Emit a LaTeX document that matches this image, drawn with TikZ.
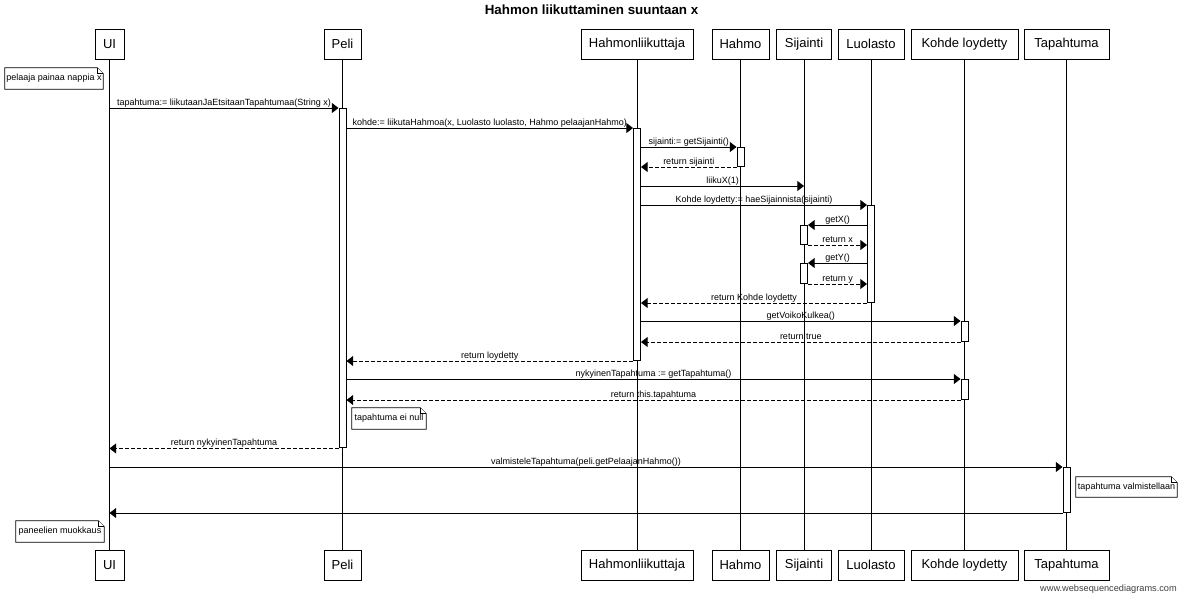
\documentclass[tikz,border=0pt]{standalone}
\usepackage{fontspec}
\setmainfont{Liberation Sans}
\usetikzlibrary{arrows.meta,calc}
\newcommand{\foldnote}[1]{%
  \draw[notel] (#1.north west) -- ([xshift=-4.5pt]#1.north east) -- ([yshift=-4.5pt]#1.north east) -- (#1.south east) -- (#1.south west) -- cycle;
  \draw[notel] ([xshift=-4.5pt]#1.north east) |- ([yshift=-4.5pt]#1.north east);}
\begin{document}
\begin{tikzpicture}[x=0.75pt,y=-0.75pt,
  pbox/.style={draw=black, line width=0.75pt, fill=white, minimum height=22.5pt, inner sep=0pt,
    font=\fontsize{9.75pt}{11pt}\selectfont},
  life/.style={draw=black, line width=0.75pt},
  act/.style={draw=black, line width=0.75pt, fill=white, minimum width=5.25pt, inner sep=0pt, anchor=north},
  msg/.style={draw=black, line width=0.75pt, -{Triangle[length=5pt,width=7.5pt]}},
  ret/.style={msg, dash pattern=on 3pt off 1.5pt},
  lbl/.style={midway, anchor=base, yshift=1.9pt, inner sep=0pt, font=\fontsize{6.75pt}{8pt}\selectfont},
  notel/.style={draw=black, line width=0.6pt, fill=white},
  notebox/.style={inner sep=0pt, minimum height=15.75pt, font=\fontsize{6.75pt}{8pt}\selectfont}
]
\useasboundingbox (0,0) rectangle (1184,597);
\fill[white] (0,0) rectangle (1184,597);

\node[font=\bfseries\fontsize{10pt}{12pt}\selectfont] (title) at (591.5,10) {Hahmon liikuttaminen suuntaan x};

% participants top
\node[pbox, minimum width=21.75pt] (ui) at (109.5,44.3) {UI};
\node[pbox, minimum width=27.75pt] (peli) at (342.5,44.3) {Peli};
\node[pbox, minimum width=84pt] (hl) at (637,44.3) {Hahmonliikuttaja};
\node[pbox, minimum width=42.75pt] (hahmo) at (740.5,44.3) {Hahmo};
\node[pbox, minimum width=41.25pt] (sij) at (804,44.3) {Sijainti};
\node[pbox, minimum width=49.5pt] (luo) at (871,44.3) {Luolasto};
\node[pbox, minimum width=80.25pt] (kohde) at (964.5,44.3) {Kohde loydetty};
\node[pbox, minimum width=63.75pt] (tap) at (1066.5,44.3) {Tapahtuma};
% participants bottom
\node[pbox, minimum width=21.75pt] (uiB) at (109.5,565) {UI};
\node[pbox, minimum width=27.75pt] (peliB) at (342.5,565) {Peli};
\node[pbox, minimum width=84pt] (hlB) at (637,565) {Hahmonliikuttaja};
\node[pbox, minimum width=42.75pt] (hahmoB) at (740.5,565) {Hahmo};
\node[pbox, minimum width=41.25pt] (sijB) at (804,565) {Sijainti};
\node[pbox, minimum width=49.5pt] (luoB) at (871,565) {Luolasto};
\node[pbox, minimum width=80.25pt] (kohdeB) at (964.5,565) {Kohde loydetty};
\node[pbox, minimum width=63.75pt] (tapB) at (1066.5,565) {Tapahtuma};

% lifelines
\foreach \p in {ui,peli,hl,hahmo,sij,luo,kohde,tap}
  \draw[life] (\p.south) -- (\p B.north);

% activations
\node[act, minimum height=254.6pt] (aPeli) at (342.5,108) {};
\node[act, minimum height=174pt] (aHl) at (637,128) {};
\node[act, minimum height=14.25pt] (aHahmo) at (740.5,147) {};
\node[act, minimum height=72.75pt] (aLuo) at (871,205) {};
\node[act, minimum height=14.25pt] (aSijA) at (804,225) {};
\node[act, minimum height=15pt] (aSijB) at (804,263) {};
\node[act, minimum height=15pt] (aKA) at (964.5,321) {};
\node[act, minimum height=15pt] (aKB) at (964.5,379) {};
\node[act, minimum height=33.75pt] (aTap) at (1066.5,467) {};

% messages
\draw[msg] (ui |- aPeli.north) -- (aPeli.north west) node[lbl] {tapahtuma:= liikutaanJaEtsitaanTapahtumaa(String x)};
\draw[msg] (aPeli.east |- aHl.north) -- (aHl.north west) node[lbl] {kohde:= liikutaHahmoa(x, Luolasto luolasto, Hahmo pelaajanHahmo)};
\draw[msg] (aHl.east |- aHahmo.north) -- (aHahmo.north west) node[lbl] {sijainti:= getSijainti()};
\draw[ret] (aHahmo.south west) -- (aHl.east |- aHahmo.south) node[lbl] {return sijainti};
\coordinate (m5) at (0,186);
\draw[msg] (aHl.east |- m5) -- (sij |- m5) node[lbl] {liikuX(1)};
\draw[msg] (aHl.east |- aLuo.north) -- (aLuo.north west) node[lbl] {Kohde loydetty:= haeSijainnista(sijainti)};
\draw[msg] (aLuo.west |- aSijA.north) -- (aSijA.north east) node[lbl] {getX()};
\draw[ret] (aSijA.south east) -- (aLuo.west |- aSijA.south) node[lbl] {return x};
\draw[msg] (aLuo.west |- aSijB.north) -- (aSijB.north east) node[lbl] {getY()};
\draw[ret] (aSijB.south east) -- (aLuo.west |- aSijB.south) node[lbl] {return y};
\draw[ret] (aLuo.south west) -- (aHl.east |- aLuo.south) node[lbl] {return Kohde loydetty};
\draw[msg] (aHl.east |- aKA.north) -- (aKA.north west) node[lbl] {getVoikoKulkea()};
\draw[ret] (aKA.south west) -- (aHl.east |- aKA.south) node[lbl] {return true};
\draw[ret] (aHl.south west) -- (aPeli.east |- aHl.south) node[lbl] {return loydetty};
\draw[msg] (aPeli.east |- aKB.north) -- (aKB.north west) node[lbl] {nykyinenTapahtuma := getTapahtuma()};
\draw[ret] (aKB.south west) -- (aPeli.east |- aKB.south) node[lbl] {return this.tapahtuma};
\draw[ret] (aPeli.south west) -- (ui |- aPeli.south) node[lbl] {return nykyinenTapahtuma};
\draw[msg] (ui |- aTap.north) -- (aTap.north west) node[lbl] {valmisteleTapahtuma(peli.getPelaajanHahmo())};
\draw[msg] (aTap.south west) -- (ui |- aTap.south);

% notes
\node[notebox, minimum width=73.5pt] (n1) at (54,78.5) {};
\foldnote{n1}
\node[notebox, minimum width=73.5pt] at (54,78.5) {pelaaja painaa nappia x};
\node[notebox, minimum width=55.5pt] (n2) at (389,418.5) {};
\foldnote{n2}
\node[notebox, minimum width=55.5pt] at (389,418.5) {tapahtuma ei null};
\node[notebox, minimum width=75.75pt, minimum height=15pt] (n3) at (1126.5,487) {};
\foldnote{n3}
\node[notebox, minimum width=75.75pt, minimum height=15pt] at (1126.5,487) {tapahtuma valmistellaan};
\node[notebox, minimum width=66pt] (n4) at (60,531.5) {};
\foldnote{n4}
\node[notebox, minimum width=66pt] at (60,531.5) {paneelien muokkaus};

\node[anchor=base east, inner sep=0pt, text=black!75, font=\fontsize{6.9pt}{8pt}\selectfont] (wsd) at (1177,591) {www.websequencediagrams.com};
\end{tikzpicture}
\end{document}
